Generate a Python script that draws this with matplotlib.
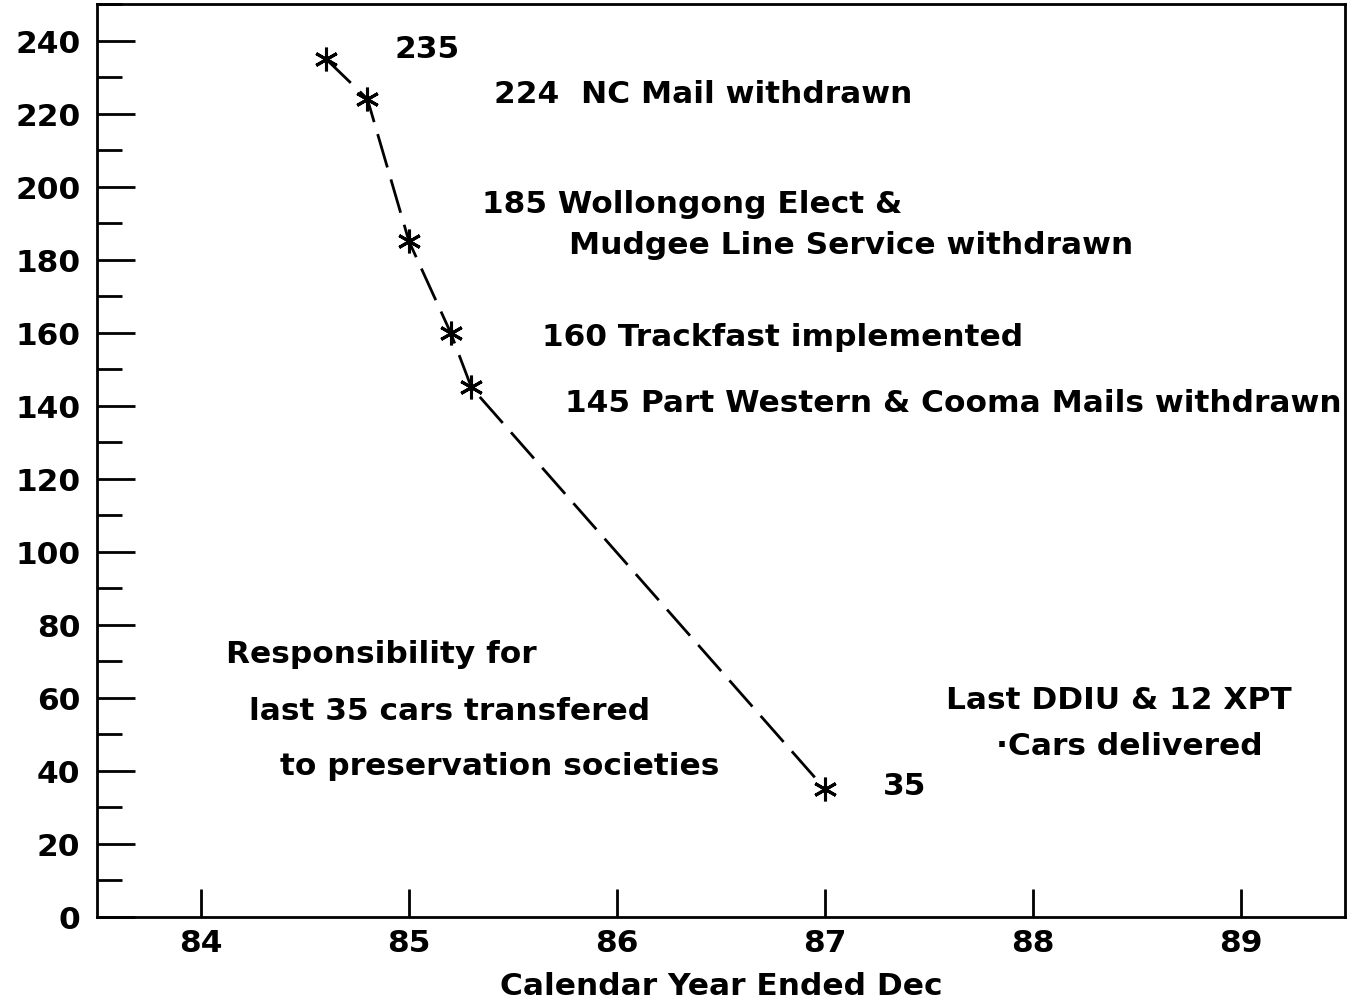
import matplotlib
matplotlib.use("Agg")
import matplotlib.pyplot as plt
from matplotlib.ticker import MultipleLocator

# cars in service at year end
years = [84.6, 84.8, 85.0, 85.2, 85.3, 87.0]
cars = [235, 224, 185, 160, 145, 35]

notes = ["235",
         "224  NC Mail withdrawn",
         "185 Wollongong Elect &",
         "Mudgee Line Service withdrawn",
         "160 Trackfast implemented",
         "145 Part Western & Cooma Mails withdrawn",
         "Responsibility for",
         "last 35 cars transfered",
         "to preservation societies",
         "Last DDIU & 12 XPT",
         "\u00b7Cars delivered",
         "35"]
note_x = [84.93, 85.41, 85.35, 85.77, 85.64, 85.75, 84.12, 84.23, 84.38, 87.58, 87.82, 87.28]
note_y = [237.8, 225.5, 195.3, 184.0, 158.9, 140.8, 72.0, 56.4, 41.4, 59.5, 46.8, 35.9]

plt.rcParams['font.family'] = ['DejaVu Sans']
plt.rcParams['font.weight'] = 'bold'
plt.rcParams['axes.labelweight'] = 'bold'

fig = plt.figure(figsize=(13.47, 10.03), dpi=100)
ax = fig.add_axes([0.072, 0.085, 0.9265, 0.910])

ax.plot(years, cars, color='black', lw=2, linestyle=(0, (12.5, 4.5)),
        marker=(6, 2, 0), markersize=17, markeredgewidth=2.2, markeredgecolor='black')

for t, x, y in zip(notes, note_x, note_y):
    ax.text(x, y, t, fontsize=22.5, ha='left', va='center')

ax.set_xlim(83.5, 89.5)
ax.set_ylim(0, 250)
ax.xaxis.set_major_locator(MultipleLocator(1))
ax.yaxis.set_major_locator(MultipleLocator(20))
ax.yaxis.set_minor_locator(MultipleLocator(10))
ax.set_yticks(range(0, 241, 20))

ax.tick_params(axis='x', which='major', direction='in', length=20, width=2,
               labelsize=22.5, pad=8)
ax.tick_params(axis='y', which='major', direction='in', length=27, width=2,
               labelsize=22.5, pad=12)
ax.tick_params(axis='y', which='minor', direction='in', length=18, width=2)
for s in ax.spines.values():
    s.set_linewidth(2)

ax.set_xlabel("Calendar Year Ended Dec", fontsize=22.5, labelpad=10)

fig.savefig("out.png", dpi=100)
